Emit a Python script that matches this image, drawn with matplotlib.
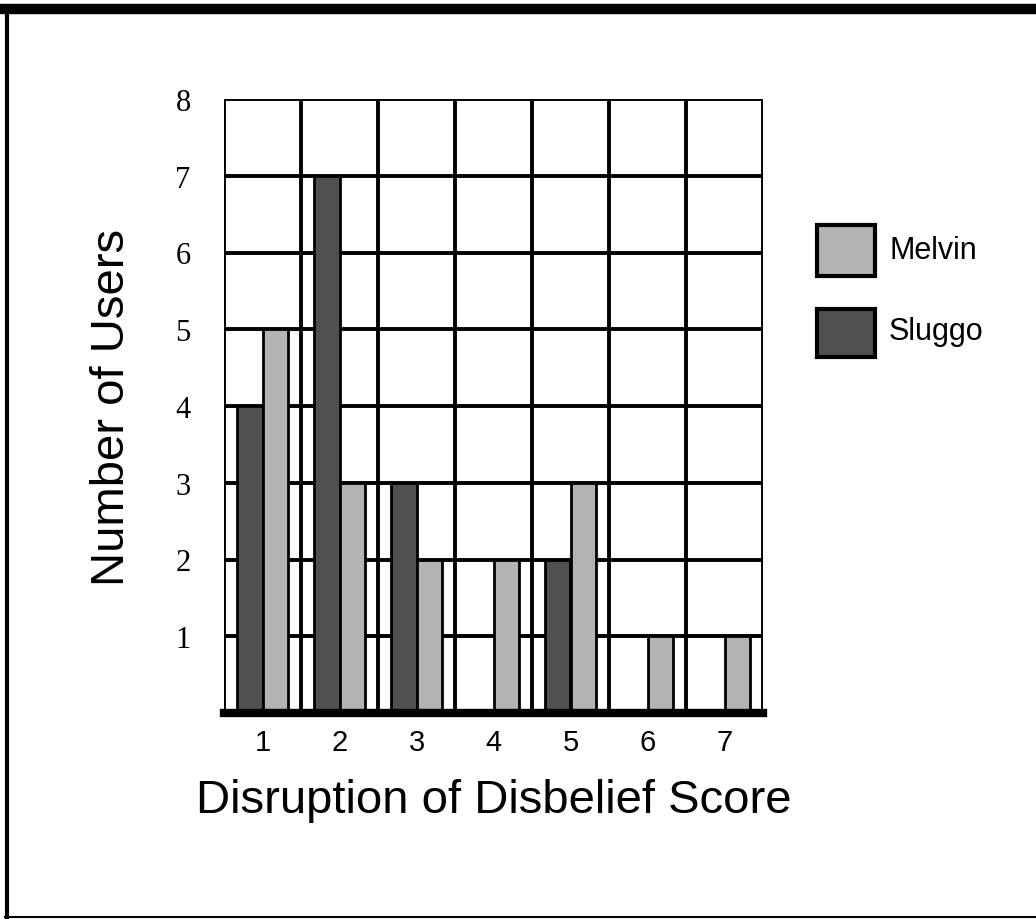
import matplotlib.pyplot as plt
from matplotlib.patches import Rectangle
from matplotlib.lines import Line2D

scores = [1, 2, 3, 4, 5, 6, 7]
melvin = [5, 3, 2, 2, 3, 1, 1]
sluggo = [4, 7, 3, 0, 2, 0, 0]
y_ticks = [1, 2, 3, 4, 5, 6, 7, 8]

gris_clair = '#b3b3b3'
gris_fonce = '#505050'

fig = plt.figure(figsize=(10.36, 9.2), dpi=100)
ax = fig.add_axes([224/1036, 1-714/920, (763-224)/1036, (714-100)/920])

#grille aux bords des colonnes
for x in range(0, 8):
  ax.axvline(x+0.5, color='black', lw=2.8, zorder=1)
for y in y_ticks:
  ax.axhline(y, color='black', lw=2.8, zorder=1)

largeur = 0.33
ax.bar([s-0.165 for s in scores], sluggo, largeur, color=gris_fonce,
       edgecolor='black', linewidth=2, zorder=3)
ax.bar([s+0.165 for s in scores], melvin, largeur, color=gris_clair,
       edgecolor='black', linewidth=2, zorder=3)

ax.set_xlim(0.5, 7.5)
ax.set_ylim(0, 8)
for cote in ['top', 'right', 'left']:
  ax.spines[cote].set_visible(False)
ax.spines['bottom'].set_linewidth(6)
ax.spines['bottom'].set_zorder(5)

ax.set_xticks(scores)
ax.set_xticklabels([str(s) for s in scores], fontsize=21, family='Liberation Sans')
ax.set_yticks(y_ticks)
ax.set_yticklabels([str(y) for y in y_ticks], fontsize=22, family='Liberation Serif')
ax.tick_params(axis='x', length=0, pad=11)
ax.tick_params(axis='y', length=0, pad=24)

ax.set_xlabel("Disruption of Disbelief Score", fontsize=34, family='Liberation Sans', labelpad=16)
ax.set_ylabel("Number of Users", fontsize=34, family='Liberation Sans', labelpad=30)

#legende faite a la main
fig.patches.append(Rectangle((817/1036, 1-277/920), 58/1036, 51/920, transform=fig.transFigure,
                             facecolor=gris_clair, edgecolor='black', linewidth=3))
fig.patches.append(Rectangle((817/1036, 1-358/920), 58/1036, 48/920, transform=fig.transFigure,
                             facecolor=gris_fonce, edgecolor='black', linewidth=3))
fig.text(889/1036, 1-251/920, "Melvin", fontsize=22, family='Liberation Sans', va='center')
fig.text(889/1036, 1-332/920, "Sluggo", fontsize=22, family='Liberation Sans', va='center')

#cadre autour
fig.lines.append(Line2D([5/1036, 1.0], [1-10/920, 1-10/920], transform=fig.transFigure, color='black', lw=7.5))
fig.lines.append(Line2D([7/1036, 7/1036], [1-10/920, 1-918/920], transform=fig.transFigure, color='black', lw=3))
fig.lines.append(Line2D([5/1036, 1.0], [1-918/920, 1-918/920], transform=fig.transFigure, color='black', lw=1.5))

fig.savefig("out.png", dpi=100)
